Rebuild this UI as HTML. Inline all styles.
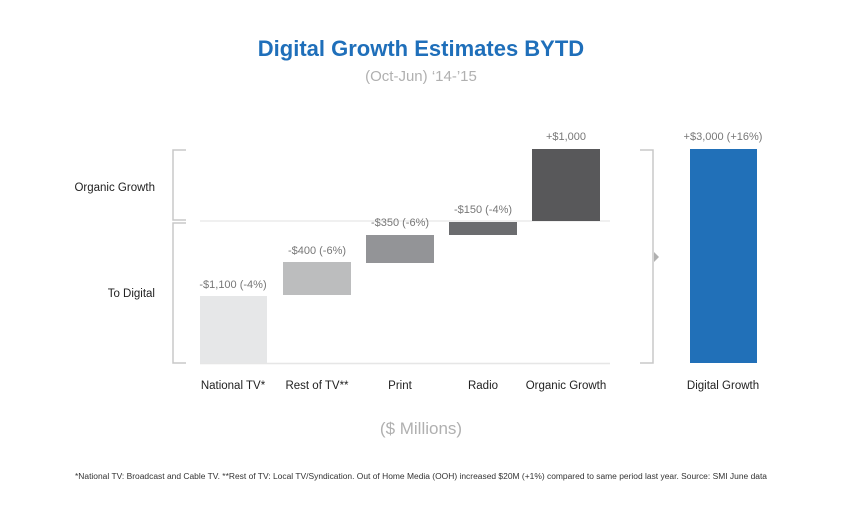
<!DOCTYPE html>
<html><head><meta charset="utf-8"><style>
body{margin:0;background:#fff;}
svg text{font-family:"Liberation Sans",sans-serif;}
</style></head><body>
<svg width="843" height="505" viewBox="0 0 843 505" xmlns="http://www.w3.org/2000/svg">
<rect width="843" height="505" fill="#fff"/>
<text x="421" y="56" text-anchor="middle" font-size="22" font-weight="bold" fill="#1f6fba">Digital Growth Estimates BYTD</text>
<text x="421" y="81" text-anchor="middle" font-size="15" fill="#b0b0b0">(Oct-Jun) ‘14-’15</text>
<g fill="none" stroke="#c8c8c8" stroke-width="1.5">
<polyline points="186,150 173,150 173,220 186,220"/>
<polyline points="186,223 173,223 173,363 186,363"/>
<polyline points="640,150 653,150 653,363 640,363"/>
</g>
<polygon points="654,252 659,257 654,262" fill="#b0b0b0"/>
<line x1="200" y1="221" x2="610" y2="221" stroke="#e0e0e0" stroke-width="1"/>
<line x1="200" y1="363.5" x2="610" y2="363.5" stroke="#e6e6e6" stroke-width="1.5"/>
<rect x="200" y="296" width="67" height="67" fill="#e6e7e8"/>
<rect x="283" y="262" width="68" height="33" fill="#bcbdbe"/>
<rect x="366" y="235" width="68" height="28" fill="#939497"/>
<rect x="449" y="222" width="68" height="13" fill="#6b6c6f"/>
<rect x="532" y="149" width="68" height="72" fill="#58585a"/>
<rect x="690" y="149" width="67" height="214" fill="#2170b8"/>
<g font-size="11" fill="#777" text-anchor="middle">
<text x="233" y="288">-$1,100 (-4%)</text>
<text x="317" y="254">-$400 (-6%)</text>
<text x="400" y="226">-$350 (-6%)</text>
<text x="483" y="213">-$150 (-4%)</text>
<text x="566" y="140">+$1,000</text>
<text x="723" y="140">+$3,000 (+16%)</text>
</g>
<g font-size="11.5" fill="#222">
<text x="155" y="191" text-anchor="end">Organic Growth</text>
<text x="155" y="297" text-anchor="end">To Digital</text>
<text x="233" y="389" text-anchor="middle">National TV*</text>
<text x="317" y="389" text-anchor="middle">Rest of TV**</text>
<text x="400" y="389" text-anchor="middle">Print</text>
<text x="483" y="389" text-anchor="middle">Radio</text>
<text x="566" y="389" text-anchor="middle">Organic Growth</text>
<text x="723" y="389" text-anchor="middle">Digital Growth</text>
</g>
<text x="421" y="434" text-anchor="middle" font-size="17" fill="#b0b0b0">($ Millions)</text>
<text x="75" y="479" font-size="7.8" fill="#333" textLength="692" lengthAdjust="spacingAndGlyphs">*National TV: Broadcast and Cable TV. **Rest of TV: Local TV/Syndication. Out of Home Media (OOH) increased $20M (+1%) compared to same period last year. Source: SMI June data</text>
</svg>
</body></html>
